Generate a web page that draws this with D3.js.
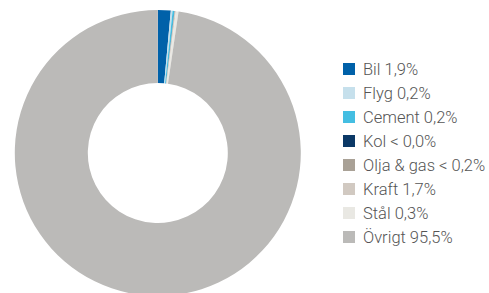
<!DOCTYPE html>
<html><head><meta charset="utf-8">
<script src="https://cdn.jsdelivr.net/npm/d3@7"></script>
<style>html,body{margin:0;padding:0;background:#fff;}</style>
</head><body>
<svg id="c" width="489" height="293"></svg>
<script>
const categories = ["Bil", "Flyg", "Cement", "Kol", "Olja & gas", "Kraft", "Stål", "Övrigt"];
const labels = ["Bil 1,9%", "Flyg 0,2%", "Cement 0,2%", "Kol < 0,0%", "Olja & gas < 0,2%", "Kraft 1,7%", "Stål 0,3%", "Övrigt 95,5%"];
const values = [1.45, 0.2, 0.2, 0.02, 0.05, 0.1, 0.3, 97.68];
const colors = ["#0061a9", "#c6e0ec", "#44bee2", "#0b3866", "#a9a196", "#d1c9c1", "#e9e8e3", "#bbbab8"];

const svg = d3.select("#c");
const cx = 157.8, cy = 153, rOuter = 143, rInner = 70;
const data = categories.map((c, i) => ({cat: c, value: values[i], color: colors[i]}));
const pie = d3.pie().sort(null).value(d => d.value);
const arc = d3.arc().innerRadius(rInner).outerRadius(rOuter);
const g = svg.append("g").attr("transform", `translate(${cx},${cy})`);
g.selectAll("path").data(pie(data)).enter().append("path")
  .attr("d", arc).attr("fill", d => d.data.color);

const y = d3.scaleBand().domain(categories).range([57, 249]).paddingInner(0);
const lg = svg.append("g");
const items = lg.selectAll("g").data(data).enter().append("g")
  .attr("transform", d => `translate(343,${y(d.cat) + y.bandwidth()/2})`);
items.append("rect").attr("x", 0).attr("y", -6).attr("width", 12).attr("height", 12).attr("fill", d => d.color);
items.append("text").attr("x", 20).attr("y", 0).attr("dy", "0.36em")
  .attr("font-family", "Roboto, Liberation Sans, Arial, sans-serif").attr("font-weight", 300).attr("font-size", 16.5)
  .attr("fill", "#555").text((d, i) => labels[i]);
</script>
</body></html>
